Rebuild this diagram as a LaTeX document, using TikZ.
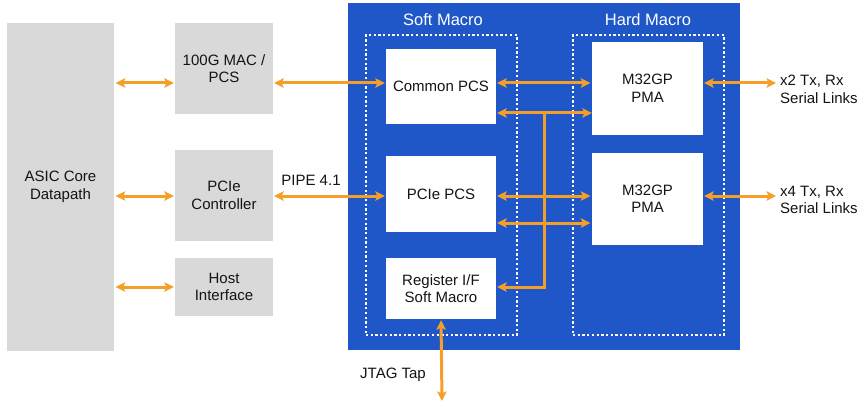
\documentclass[tikz,border=0pt]{standalone}
\usepackage{fontspec}
\setmainfont{Liberation Sans}
\usetikzlibrary{arrows.meta}
\definecolor{ablue}{RGB}{31,87,201}
\definecolor{agray}{RGB}{217,217,217}
\definecolor{aorange}{RGB}{245,158,40}
\definecolor{atext}{RGB}{20,20,20}
\begin{document}
\begin{tikzpicture}[x=1pt,y=-1pt,
  graybox/.style={fill=agray,draw=none,inner sep=0pt,align=center,text=atext,font=\fontsize{15}{17.5}\selectfont},
  whitebox/.style={fill=white,draw=none,inner sep=0pt,align=center,text=atext,font=\fontsize{15}{17.5}\selectfont},
  biarrow/.style={draw=aorange,line width=3pt,{Stealth[length=9.5pt,width=9.5pt,inset=2pt]}-{Stealth[length=9.5pt,width=9.5pt,inset=2pt]}},
  rarrow/.style={draw=aorange,line width=3pt,-{Stealth[length=9.5pt,width=9.5pt,inset=2pt]}},
  dotbox/.style={draw=white,line width=2.5pt,dash pattern=on 2.3pt off 2.4pt},
  lbl/.style={text=atext,font=\fontsize{15}{17.5}\selectfont,align=left,inner sep=0pt},
  title/.style={text=white,font=\fontsize{16.5}{19}\selectfont,inner sep=0pt}]
\useasboundingbox (0,0) rectangle (864,409);
% background
\fill[white] (0,0) rectangle (864,409);
% left gray blocks
\node[graybox,minimum width=107pt,minimum height=328pt] (asic) at (60.5,187) {ASIC Core\\Datapath};
\node[graybox,minimum width=98pt,minimum height=91pt] (mac) at (224,68.5) {100G MAC /\\PCS};
\node[graybox,minimum width=98pt,minimum height=91pt] (pctl) at (224,195.5) {PCIe\\Controller};
\node[graybox,minimum width=98pt,minimum height=58pt] (host) at (224,287) {Host\\Interface};
% blue macro area
\node[fill=ablue,draw=none,minimum width=392pt,minimum height=347pt,inner sep=0pt] (macro) at (544,176.5) {};
\node[title] (softt) at (443,20) {Soft Macro};
\node[title] (hardt) at (648,20) {Hard Macro};
\node[dotbox,minimum width=151pt,minimum height=300pt,inner sep=0pt] (soft) at (441.5,185) {};
\node[dotbox,minimum width=151pt,minimum height=300pt,inner sep=0pt] (hard) at (648.5,185) {};
% inner white blocks
\node[whitebox,minimum width=110pt,minimum height=75pt] (cpcs) at (441,86.5) {Common PCS};
\node[whitebox,minimum width=110pt,minimum height=76pt] (ppcs) at (441,194) {PCIe PCS};
\node[whitebox,minimum width=110pt,minimum height=61pt] (reg) at (441,288.5) {Register I/F\\Soft Macro};
\node[whitebox,minimum width=111pt,minimum height=93pt] (pma1) at (647.5,88.5) {M32GP\\PMA};
\node[whitebox,minimum width=111pt,minimum height=92pt] (pma2) at (647.5,199) {M32GP\\PMA};
% row levels
\coordinate (r1) at (0,83);
\coordinate (r2) at (0,113);
\coordinate (r3) at (0,196);
\coordinate (r4) at (0,223);
\coordinate (r5) at (0,287);
\coordinate (ext1) at (776,83);
\coordinate (ext2) at (776,196);
\coordinate (jtag) at (442,401);
\coordinate (bus) at (544,113);
% connectors
\draw[biarrow,shorten <=1.5pt,shorten >=1pt] (asic.east |- r1) -- (mac.west |- r1);
\draw[biarrow,shorten <=1.5pt,shorten >=1pt] (asic.east |- r3) -- (pctl.west |- r3);
\draw[biarrow,shorten <=1.5pt,shorten >=1pt] (asic.east |- r5) -- (host.west |- r5);
\draw[biarrow,shorten <=1pt,shorten >=1pt] (mac.east |- r1) -- (cpcs.west |- r1);
\draw[biarrow,shorten <=1pt,shorten >=1pt] (pctl.east |- r3) -- (ppcs.west |- r3);
\draw[biarrow,shorten <=1pt,shorten >=1.5pt] (cpcs.east |- r1) -- (pma1.west |- r1);
\draw[draw=aorange,line width=3pt] (bus) -- (bus |- r5);
\draw[biarrow,shorten <=1pt] (cpcs.east |- r2) -- (pma1.west |- r2);
\draw[biarrow,shorten <=1pt,shorten >=1.5pt] (ppcs.east |- r3) -- (pma2.west |- r3);
\draw[biarrow,shorten <=1pt,shorten >=1.5pt] (ppcs.east |- r4) -- (pma2.west |- r4);
\draw[rarrow,shorten >=1pt] ([xshift=1.5pt]bus |- r5) -- (reg.east |- r5);
\draw[biarrow,shorten <=1pt] (pma1.east |- r1) -- (ext1);
\draw[biarrow,shorten <=1pt] (pma2.east |- r3) -- (ext2);
\draw[biarrow,shorten <=1pt] (reg.south) -- (jtag);
% labels
\node[lbl,anchor=west] (l1) at (780,89.5) {x2 Tx, Rx\\Serial Links};
\node[lbl,anchor=west] (l2) at (780,200) {x4 Tx, Rx\\Serial Links};
\node[lbl] (pipe) at (311,180) {PIPE 4.1};
\node[lbl] (jt) at (393,375) {JTAG Tap};
\end{tikzpicture}
\end{document}
